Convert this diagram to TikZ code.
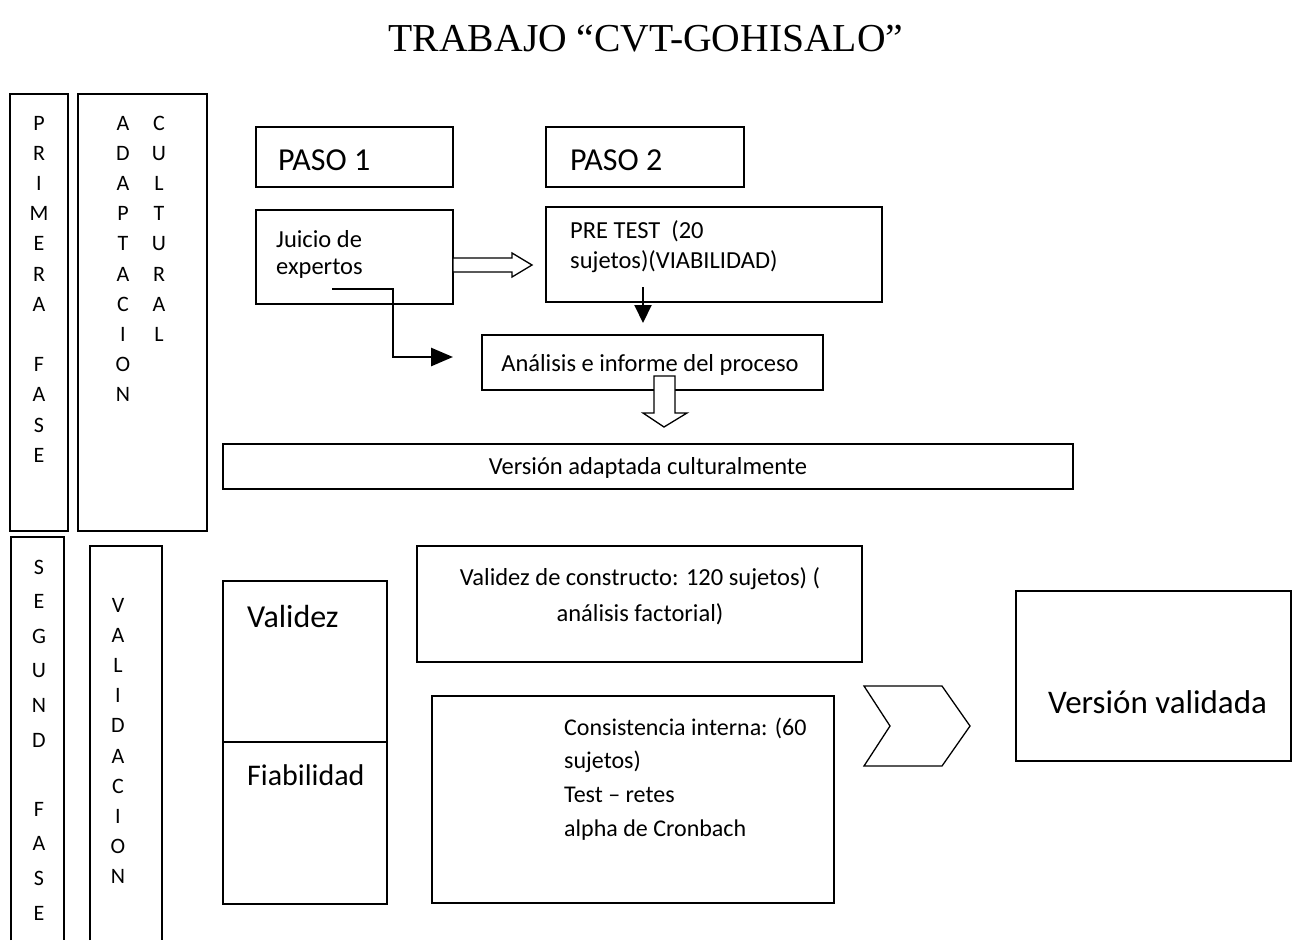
\documentclass[tikz,border=0pt]{standalone}
\usepackage{fontspec}
\setmainfont{Carlito}
\newfontfamily\titlefont{Liberation Serif}
\usetikzlibrary{arrows.meta}
\begin{document}
\begin{tikzpicture}[x=1pt,y=-1pt,
  box/.style={draw, line width=1.4pt, inner sep=0pt, outer sep=0pt},
  small/.style={font=\fontsize{24.5}{30}\selectfont, inner sep=0pt},
  big/.style={font=\fontsize{32}{38}\selectfont, inner sep=0pt, anchor=base west},
  vert/.style={font=\fontsize{22}{30.2}\selectfont, inner sep=0pt, anchor=base},
  hollow/.style={draw, fill=white, line width=1.3pt, line join=miter},
  elbow/.style={line width=2.8pt, -{Triangle[length=22pt,width=18pt]}},
  downarr/.style={line width=2pt, -{Triangle[length=18pt,width=17pt]}},
  openbox/.style={draw, line width=1.4pt}
]
\useasboundingbox (0,0) rectangle (1293,940);

% title
\node[font=\titlefont\fontsize{39.6}{44}\selectfont, inner sep=0pt, anchor=base] (title) at (646,51) {TRABAJO “CVT-GOHISALO”};

% phase boxes
\node[box, minimum width=58pt, minimum height=437pt] (prim) at (39,312.5) {};
\node[box, minimum width=129pt, minimum height=437pt] (adap) at (142.5,312.5) {};
\node[vert] (primt) at (39,130) {\begin{tabular}[t]{@{}c@{}}P\\R\\I\\M\\E\\R\\A\\ \\F\\A\\S\\E\end{tabular}};
\node[vert] (adapt) at (123,130) {\begin{tabular}[t]{@{}c@{}}A\\D\\A\\P\\T\\A\\C\\I\\O\\N\end{tabular}};
\node[vert] (cultt) at (159,130) {\begin{tabular}[t]{@{}c@{}}C\\U\\L\\T\\U\\R\\A\\L\end{tabular}};

\path[openbox] (11,940) -- (11,537) -- (64,537) -- (64,940);
\path[openbox] (90,940) -- (90,546) -- (162,546) -- (162,940);
\node[vert, font=\fontsize{22}{34.6}\selectfont] (segt) at (39,574) {\begin{tabular}[t]{@{}c@{}}S\\E\\G\\U\\N\\D\\ \\F\\A\\S\\E\end{tabular}};
\node[vert] (valt) at (118,612) {\begin{tabular}[t]{@{}c@{}}V\\A\\L\\I\\D\\A\\C\\I\\O\\N\end{tabular}};

% top section
\node[box, minimum width=197pt, minimum height=60pt] (paso1) at (354.5,157) {};
\node[big] (paso1t) at (278,170) {PASO 1};
\node[box, minimum width=198pt, minimum height=60pt] (paso2) at (645,157) {};
\node[big] (paso2t) at (570,170) {PASO 2};

\node[box, minimum width=197pt, minimum height=94pt] (juicio) at (354.5,257) {};
\node[small, anchor=base west, font=\fontsize{24.5}{27}\selectfont] (juiciot) at (276,247) {\begin{tabular}[t]{@{}l@{}}Juicio de\\expertos\end{tabular}};

\node[box, minimum width=336pt, minimum height=95pt] (pretest) at (714,254.5) {};
\node[small, anchor=base west, font=\fontsize{24.5}{30}\selectfont] (pretestt) at (570,238) {\begin{tabular}[t]{@{}l@{}}PRE TEST~~(20\\sujetos)(VIABILIDAD)\end{tabular}};

\node[box, minimum width=341pt, minimum height=55pt] (analisis) at (652.5,362.5) {};
\node[small, anchor=base] (analisist) at (650,371) {Análisis e informe del proceso};

\node[box, minimum width=850pt, minimum height=45pt] (vadapt) at (648,466.5) {};
\node[small, anchor=base] (vadaptt) at (648,474) {Versión adaptada culturalmente};

% hollow right arrow juicio -> pretest
\begin{scope}[shift={(juicio.east)}]
  \path[hollow] (0,1) -- (59,1) -- (59,-4) -- (79,8) -- (59,20) -- (59,15) -- (0,15) -- cycle;
\end{scope}

% elbow arrow from juicio towards analisis
\coordinate (ea) at (332,289);
\coordinate (eb) at (453,357);
\draw[elbow] (ea) -- (393,289) |- (eb);

% down arrow from pretest
\coordinate (da) at (643,287);
\coordinate (db) at (643,323);
\draw[downarr] (da) -- (db);

% hollow down arrow analisis -> version adaptada
\path[hollow] (654,376) -- (675,376) -- (675,413) -- (687,413) -- (664,427) -- (643,413) -- (654,413) -- cycle;

% bottom section
\node[box, minimum width=164pt, minimum height=161pt] (validez) at (305,661.5) {};
\node[box, minimum width=164pt, minimum height=162pt] (fiab) at (305,823) {};
\node[big] (validezt) at (247,627) {Validez};
\node[big, font=\fontsize{30}{36}\selectfont] (fiabt) at (247,785) {Fiabilidad};

\node[box, minimum width=445pt, minimum height=116pt] (constr) at (639.5,604) {};
\node[small, anchor=base, font=\fontsize{24.5}{36}\selectfont] (constrt) at (640,585) {\begin{tabular}[t]{@{}c@{}}Validez de constructo: 120 sujetos) (\\análisis factorial)\end{tabular}};

\node[box, minimum width=402pt, minimum height=207pt] (consist) at (633,799.5) {};
\node[small, anchor=base west, font=\fontsize{24}{33.7}\selectfont] (consistt) at (564,735) {\begin{tabular}[t]{@{}l@{}}Consistencia interna: (60\\sujetos)\\Test – retes\\alpha de Cronbach\end{tabular}};

% chevron
\path[hollow] (864,686) -- (942,686) -- (970,726) -- (942,766) -- (864,766) -- (890,726) -- cycle;

\node[box, minimum width=275pt, minimum height=170pt] (verval) at (1153.5,676) {};
\node[big, font=\fontsize{33}{38}\selectfont] (vervalt) at (1048,713) {Versión validada};
\end{tikzpicture}
\end{document}
